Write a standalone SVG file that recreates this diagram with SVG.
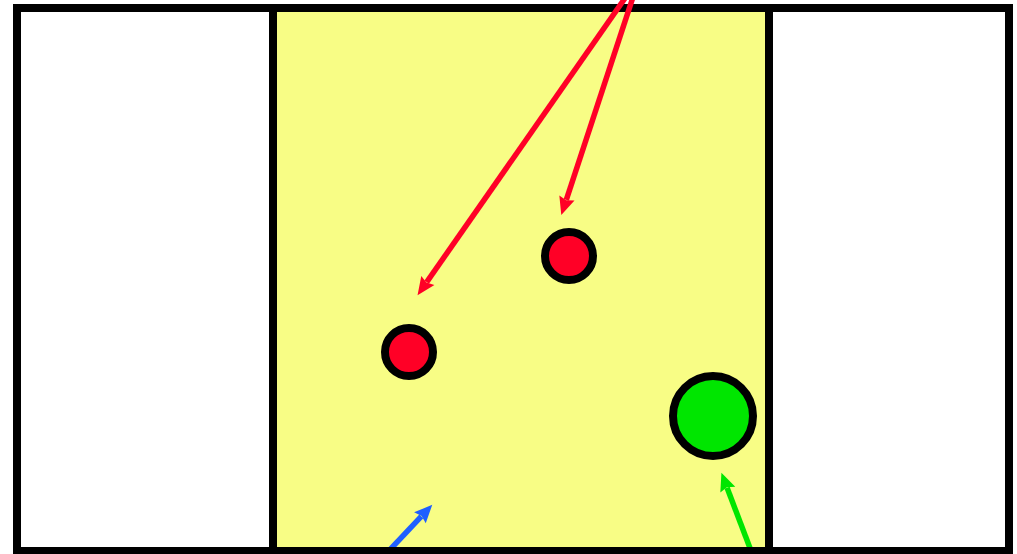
<svg xmlns="http://www.w3.org/2000/svg" width="1017" height="554" viewBox="0 0 1017 554">
<style>
.frame{fill:none;stroke:#000;stroke-width:8}
.dot{stroke:#000;stroke-width:8}
.red{fill:#ff0026}
.green{fill:#00e600}
.conn{fill:none;stroke-width:5.5}
</style>
<defs>
<marker id="ahR" markerUnits="userSpaceOnUse" viewBox="-1 -10 21 20" markerWidth="21" markerHeight="20" refX="2" refY="0" orient="auto"><path d="M0,-8 L18,0 L0,8 L2.5,0 z" fill="#ff0026"/></marker>
<marker id="ahB" markerUnits="userSpaceOnUse" viewBox="-1 -10 21 20" markerWidth="21" markerHeight="20" refX="2" refY="0" orient="auto"><path d="M0,-8 L18,0 L0,8 L2.5,0 z" fill="#1f5fff"/></marker>
<marker id="ahG" markerUnits="userSpaceOnUse" viewBox="-1 -10 21 20" markerWidth="21" markerHeight="20" refX="2" refY="0" orient="auto"><path d="M0,-8 L18,0 L0,8 L2.5,0 z" fill="#00e600"/></marker>
</defs>
<rect width="1017" height="554" fill="#fff"/>
<g id="zone">
<rect x="273" y="8" width="496" height="543" fill="#f8fd85"/>
</g>
<g id="connectors-bottom">
<line class="conn" x1="384" y1="556" x2="421.3" y2="516.4" stroke="#1f5fff" marker-end="url(#ahB)"/>
<line class="conn" x1="753" y1="556" x2="727.1" y2="487.8" stroke="#00e600" marker-end="url(#ahG)"/>
</g>
<g id="frame">
<rect class="frame" x="17" y="8" width="992" height="543"/>
<line class="frame" x1="273" y1="8" x2="273" y2="551"/>
<line class="frame" x1="769" y1="8" x2="769" y2="551"/>
</g>
<g id="node-red1"><circle class="dot red" cx="569" cy="256" r="24"/></g>
<g id="node-red2"><circle class="dot red" cx="409" cy="352" r="24"/></g>
<g id="node-green"><circle class="dot green" cx="713" cy="416" r="40"/></g>
<g id="connectors">
<line class="conn" x1="630" y1="-9" x2="426.7" y2="282.1" stroke="#ff0026" marker-end="url(#ahR)"/>
<line class="conn" x1="635" y1="-9" x2="566.3" y2="199.9" stroke="#ff0026" marker-end="url(#ahR)"/>
</g>
</svg>
